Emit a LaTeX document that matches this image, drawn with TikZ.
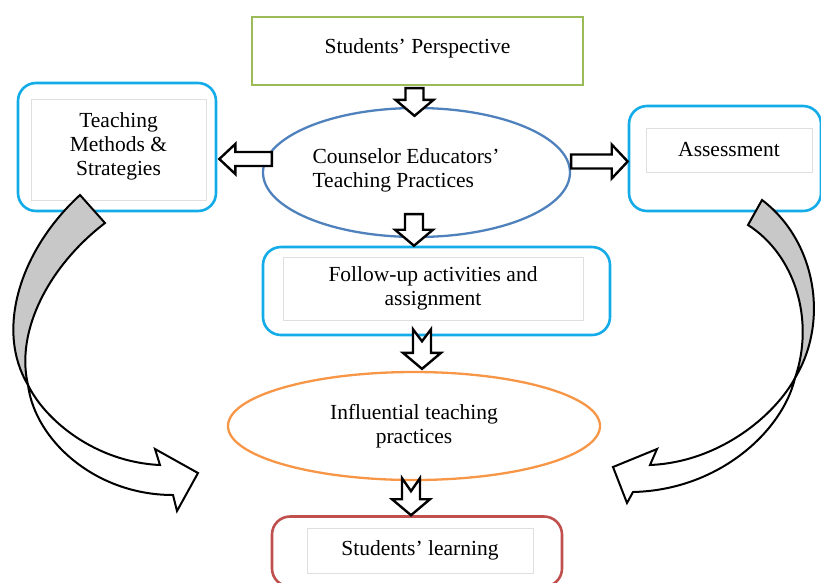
\documentclass[tikz,border=0pt]{standalone}
\usepackage{fontspec}
\setmainfont{Liberation Serif}
\usepackage{tikz}
\usetikzlibrary{shapes.geometric,calc}

\definecolor{boxgreen}{RGB}{155,187,89}
\definecolor{boxblue}{RGB}{79,129,189}
\definecolor{boxsky}{RGB}{20,172,232}
\definecolor{boxorange}{RGB}{247,150,70}
\definecolor{boxred}{RGB}{192,80,77}
\definecolor{innergray}{RGB}{225,222,222}
\definecolor{backgray}{RGB}{200,200,200}

\tikzset{
  outerbox/.style={draw=boxsky, line width=2.6pt, rounded corners=18pt},
  innerbox/.style={draw=innergray, line width=0.7pt, align=center, inner sep=0pt},
  oval/.style={ellipse, line width=2.3pt, inner sep=0pt},
  blockarrow/.style={draw=black, fill=white, line width=2.4pt, line join=miter},
  bentarrow/.style={draw=black, line width=2pt, line join=miter}
}

% vertical block arrow: start, tip, notch depth
\newcommand{\vblock}[3]{%
  \draw[blockarrow] let \p1=(#1), \p2=(#2) in
    (\x1-9pt,\y1) -- (\x1,\y1-#3) -- (\x1+9pt,\y1) -- (\x1+9pt,\y2+16pt)
    -- (\x1+19pt,\y2+16pt) -- (\x1,\y2) -- (\x1-19pt,\y2+16pt)
    -- (\x1-9pt,\y2+16pt) -- cycle;}
% horizontal block arrows: start, tip
\newcommand{\lblock}[2]{%
  \draw[blockarrow] let \p1=(#1), \p2=(#2) in
    (\x1,\y1+7pt) -- (\x2+16pt,\y1+7pt) -- (\x2+16pt,\y1+15pt) -- (\x2,\y1)
    -- (\x2+16pt,\y1-15pt) -- (\x2+16pt,\y1-7pt) -- (\x1,\y1-7pt) -- cycle;}
\newcommand{\rblock}[2]{%
  \draw[blockarrow] let \p1=(#1), \p2=(#2) in
    (\x1,\y1+7pt) -- (\x2-16pt,\y1+7pt) -- (\x2-16pt,\y1+17pt) -- (\x2,\y1)
    -- (\x2-16pt,\y1-17pt) -- (\x2-16pt,\y1-7pt) -- (\x1,\y1-7pt) -- cycle;}

\begin{document}
\begin{tikzpicture}[x=1pt, y=-1pt, font=\fontsize{21.5}{24}\selectfont]
\useasboundingbox (0,0) rectangle (821,582);

% boxes and ovals
\node[draw=boxgreen, line width=2.3pt, minimum width=331pt, minimum height=68pt] (persp) at (417.5,51) {};
\node at (417.5,48) {Students’ Perspective};

\node[oval, draw=boxblue, minimum width=307pt, minimum height=129pt] (counsel) at (416.5,172.5) {};
\node[align=left] at (406,170) {Counselor Educators’\\Teaching Practices};

\node[outerbox, minimum width=198pt, minimum height=128pt] (methodsbox) at (117,147) {};
\node[innerbox, minimum width=175pt, minimum height=101pt] (methods) at (118.5,149.5) {};
\node[align=center] at (118.5,146) {Teaching\\Methods \&\\Strategies};

\node[outerbox, minimum width=192pt, minimum height=105pt] (assessbox) at (725,158.5) {};
\node[innerbox, minimum width=166pt, minimum height=44pt] (assess) at (729,150) {Assessment};

\node[outerbox, minimum width=347pt, minimum height=88pt] (followbox) at (436.5,291) {};
\node[innerbox, minimum width=300pt, minimum height=63pt] (follow) at (433,288.5) {Follow-up activities and\\assignment};

\node[oval, draw=boxorange, minimum width=372pt, minimum height=108pt, align=center] (influ) at (414,426) {Influential teaching\\practices};

\node[outerbox, draw=boxred, minimum width=290pt, minimum height=70pt] (learnbox) at (417,551.5) {};
\node[innerbox, minimum width=226pt, minimum height=45pt] (learn) at (420,550.5) {Students’ learning};

% block arrows
\vblock{$(persp.south)+(-3,2)$}{$(counsel.north)+(0,9)$}{0pt}
\lblock{$(counsel.west)+(10,-13.5)$}{$(methodsbox.east)+(2,0)$}
\rblock{$(counsel.east)+(0,-11)$}{assessbox.west}
\vblock{$(counsel.south)+(-2.5,-24)$}{followbox.north}{0pt}
\vblock{$(followbox.south)+(-14.5,-7)$}{$(influ.north)+(0,-2)$}{12pt}
\vblock{$(influ.south)+(-3,-3)$}{learnbox.north}{13pt}

% curved arrows, left
\draw[bentarrow, fill=backgray] (80,195) .. controls (20,250) and (-5,330) .. (28,385)
  .. controls (15,330) and (50,265) .. (105,223) -- cycle;
\draw[bentarrow, fill=white] (28,385) .. controls (45,420) and (95,462) .. (160,465)
  -- (155,449) -- (198,473) -- (177,511) -- (173,495)
  .. controls (95,495) and (35,440) .. (28,385) -- cycle;
% curved arrows, right
\draw[bentarrow, fill=backgray] (762,200) .. controls (815,240) and (830,320) .. (795,378)
  .. controls (815,320) and (795,255) .. (748,225) -- cycle;
\draw[bentarrow, fill=white] (795,378) .. controls (775,415) and (720,462) .. (650,465)
  -- (657,449) -- (613,467) -- (627,503) -- (633,492)
  .. controls (720,490) and (783,430) .. (795,378) -- cycle;
\end{tikzpicture}
\end{document}
